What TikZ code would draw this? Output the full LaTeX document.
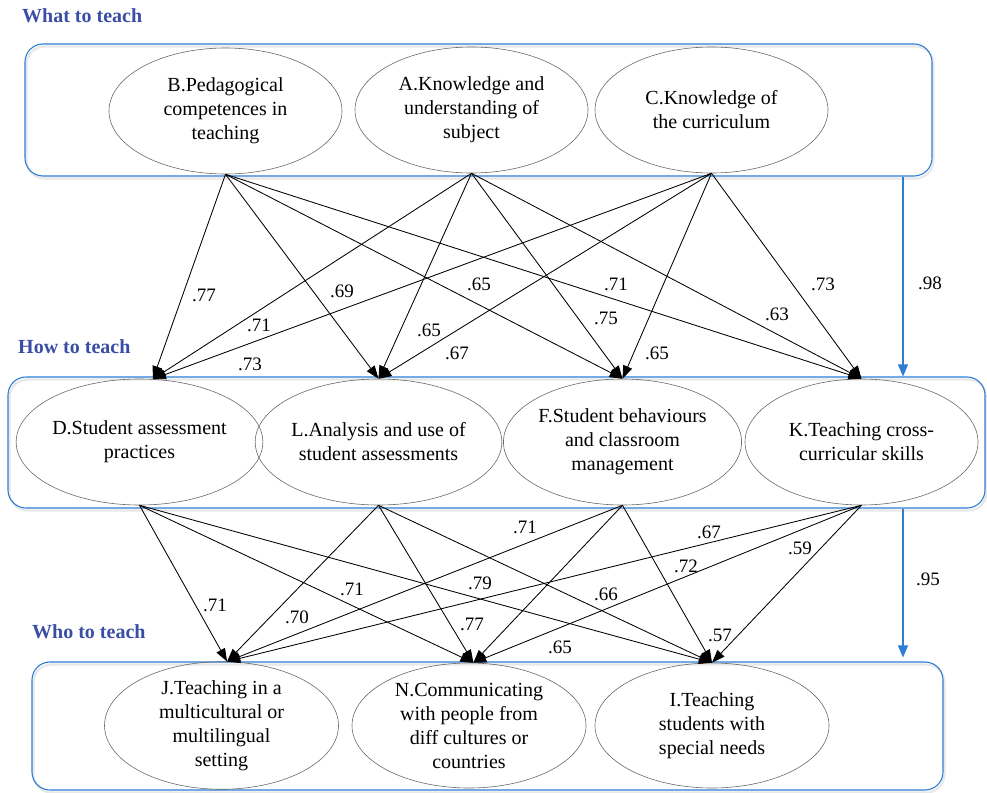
\documentclass[tikz,border=0pt]{standalone}
\usepackage{fontspec}
\setmainfont{Liberation Serif}
\usetikzlibrary{shapes.geometric,arrows.meta}
\definecolor{boxblue}{RGB}{45,125,212}
\definecolor{titleblue}{RGB}{58,78,165}
\definecolor{ellgray}{RGB}{105,105,105}
\tikzset{
  grp/.style={draw=boxblue, line width=1.1pt, rounded corners=18pt, inner sep=0pt},
  grpshadow/.style={draw=black!9, line width=2.2pt, rounded corners=18pt},
  factor/.style={ellipse, draw=ellgray, line width=0.6pt, inner sep=0pt, align=center,
    font=\fontsize{20}{24}\selectfont, minimum width=233pt, minimum height=126pt},
  ttl/.style={anchor=base west, inner sep=0pt, font=\fontsize{20}{24}\selectfont\bfseries, text=titleblue},
  lbl/.style={inner sep=0pt, font=\fontsize{19}{22}\selectfont},
  edgearr/.style={draw=black, line width=0.85pt, -{Triangle[length=13pt,width=9.5pt]}},
  bluearr/.style={draw=boxblue, line width=1.1pt, -{Triangle[length=12pt,width=10pt]}}
}
\begin{document}
\begin{tikzpicture}[x=1pt,y=-1pt]
\useasboundingbox (0,0) rectangle (987,792);
\clip (0,0) rectangle (987,792);

% shadows
\draw[grpshadow] (26.5,46.5) rectangle (933.5,178.5);
\draw[grpshadow] (9.5,379.5) rectangle (986.5,510.5);
\draw[grpshadow] (33.5,664.5) rectangle (944.5,792.5);

% group boxes
\node[grp, minimum width=907pt, minimum height=132pt] (what) at (478.5,110) {};
\node[grp, minimum width=977pt, minimum height=131pt] (how) at (496.5,442.5) {};
\node[grp, minimum width=911pt, minimum height=128pt] (who) at (487.5,726) {};

% titles
\node[ttl] (t1) at (22,23) {What to teach};
\node[ttl] (t2) at (18,353) {How to teach};
\node[ttl] (t3) at (32,638) {Who to teach};

% factors
\node[factor] (B) at (225.5,111) {B.Pedagogical\\competences in\\teaching};
\node[factor] (A) at (471.5,110) {A.Knowledge and\\understanding of\\subject};
\node[factor] (C) at (711.5,110) {C.Knowledge of\\the curriculum};

\node[factor] (D) at (139.5,442) {D.Student assessment\\practices};
\node[factor] (L) at (378.5,442) {L.Analysis and use of\\student assessments};
\node[factor] (F) at (622.5,442) {F.Student behaviours\\and classroom\\management};
\node[factor] (K) at (861.5,442) {K.Teaching cross-\\curricular skills};

\node[factor, minimum width=234pt, minimum height=125pt] (J) at (221.5,725.5) {J.Teaching in a\\multicultural or\\multilingual\\setting};
\node[factor, minimum width=234pt, minimum height=125pt] (N) at (469,725.5) {N.Communicating\\with people from\\diff cultures or\\countries};
\node[factor, minimum width=234pt, minimum height=125pt] (I) at (712,725.5) {I.Teaching\\students with\\special needs};

% top -> middle connectors
\foreach \s in {B,A,C}{
  \draw[edgearr] (\s.south) -- (D.78);
  \draw[edgearr] (\s.south) -- (L.north);
  \draw[edgearr] (\s.south) -- (F.north);
  \draw[edgearr] (\s.south) -- (K.north);
}
% middle -> bottom connectors
\foreach \s in {D,L,F,K}{
  \draw[edgearr] (\s.south) -- (J.85);
  \draw[edgearr] (\s.south) -- (N.86);
  \draw[edgearr] (\s.south) -- (I.north);
}

% blue group arrows
\coordinate (xa) at (903,0);
\draw[bluearr] (what.south -| xa) -- (how.north -| xa);
\draw[bluearr, shorten >=4pt] (how.south -| xa) -- (who.north -| xa);

% labels top
\node[lbl] (l1) at (204,295) {.77};
\node[lbl] (l2) at (342,291) {.69};
\node[lbl] (l3) at (479,284) {.65};
\node[lbl] (l4) at (616,284) {.71};
\node[lbl] (l5) at (259,325) {.71};
\node[lbl] (l6) at (250,364) {.73};
\node[lbl] (l7) at (429,330) {.65};
\node[lbl] (l8) at (457,353) {.67};
\node[lbl] (l9) at (606,318) {.75};
\node[lbl] (l10) at (657,353) {.65};
\node[lbl] (l11) at (777,314) {.63};
\node[lbl] (l12) at (823,284) {.73};
\node[lbl] (l13) at (930,283) {.98};
% labels bottom
\node[lbl] (m1) at (215,605) {.71};
\node[lbl] (m2) at (297,617) {.70};
\node[lbl] (m3) at (352,589) {.71};
\node[lbl] (m4) at (480,583) {.79};
\node[lbl] (m5) at (472,624) {.77};
\node[lbl] (m6) at (525,527) {.71};
\node[lbl] (m7) at (606,594) {.66};
\node[lbl] (m8) at (709,532) {.67};
\node[lbl] (m9) at (686,566) {.72};
\node[lbl] (m10) at (800,548) {.59};
\node[lbl] (m11) at (720,635) {.57};
\node[lbl] (m12) at (560,647) {.65};
\node[lbl] (m13) at (928,579) {.95};
\end{tikzpicture}
\end{document}
